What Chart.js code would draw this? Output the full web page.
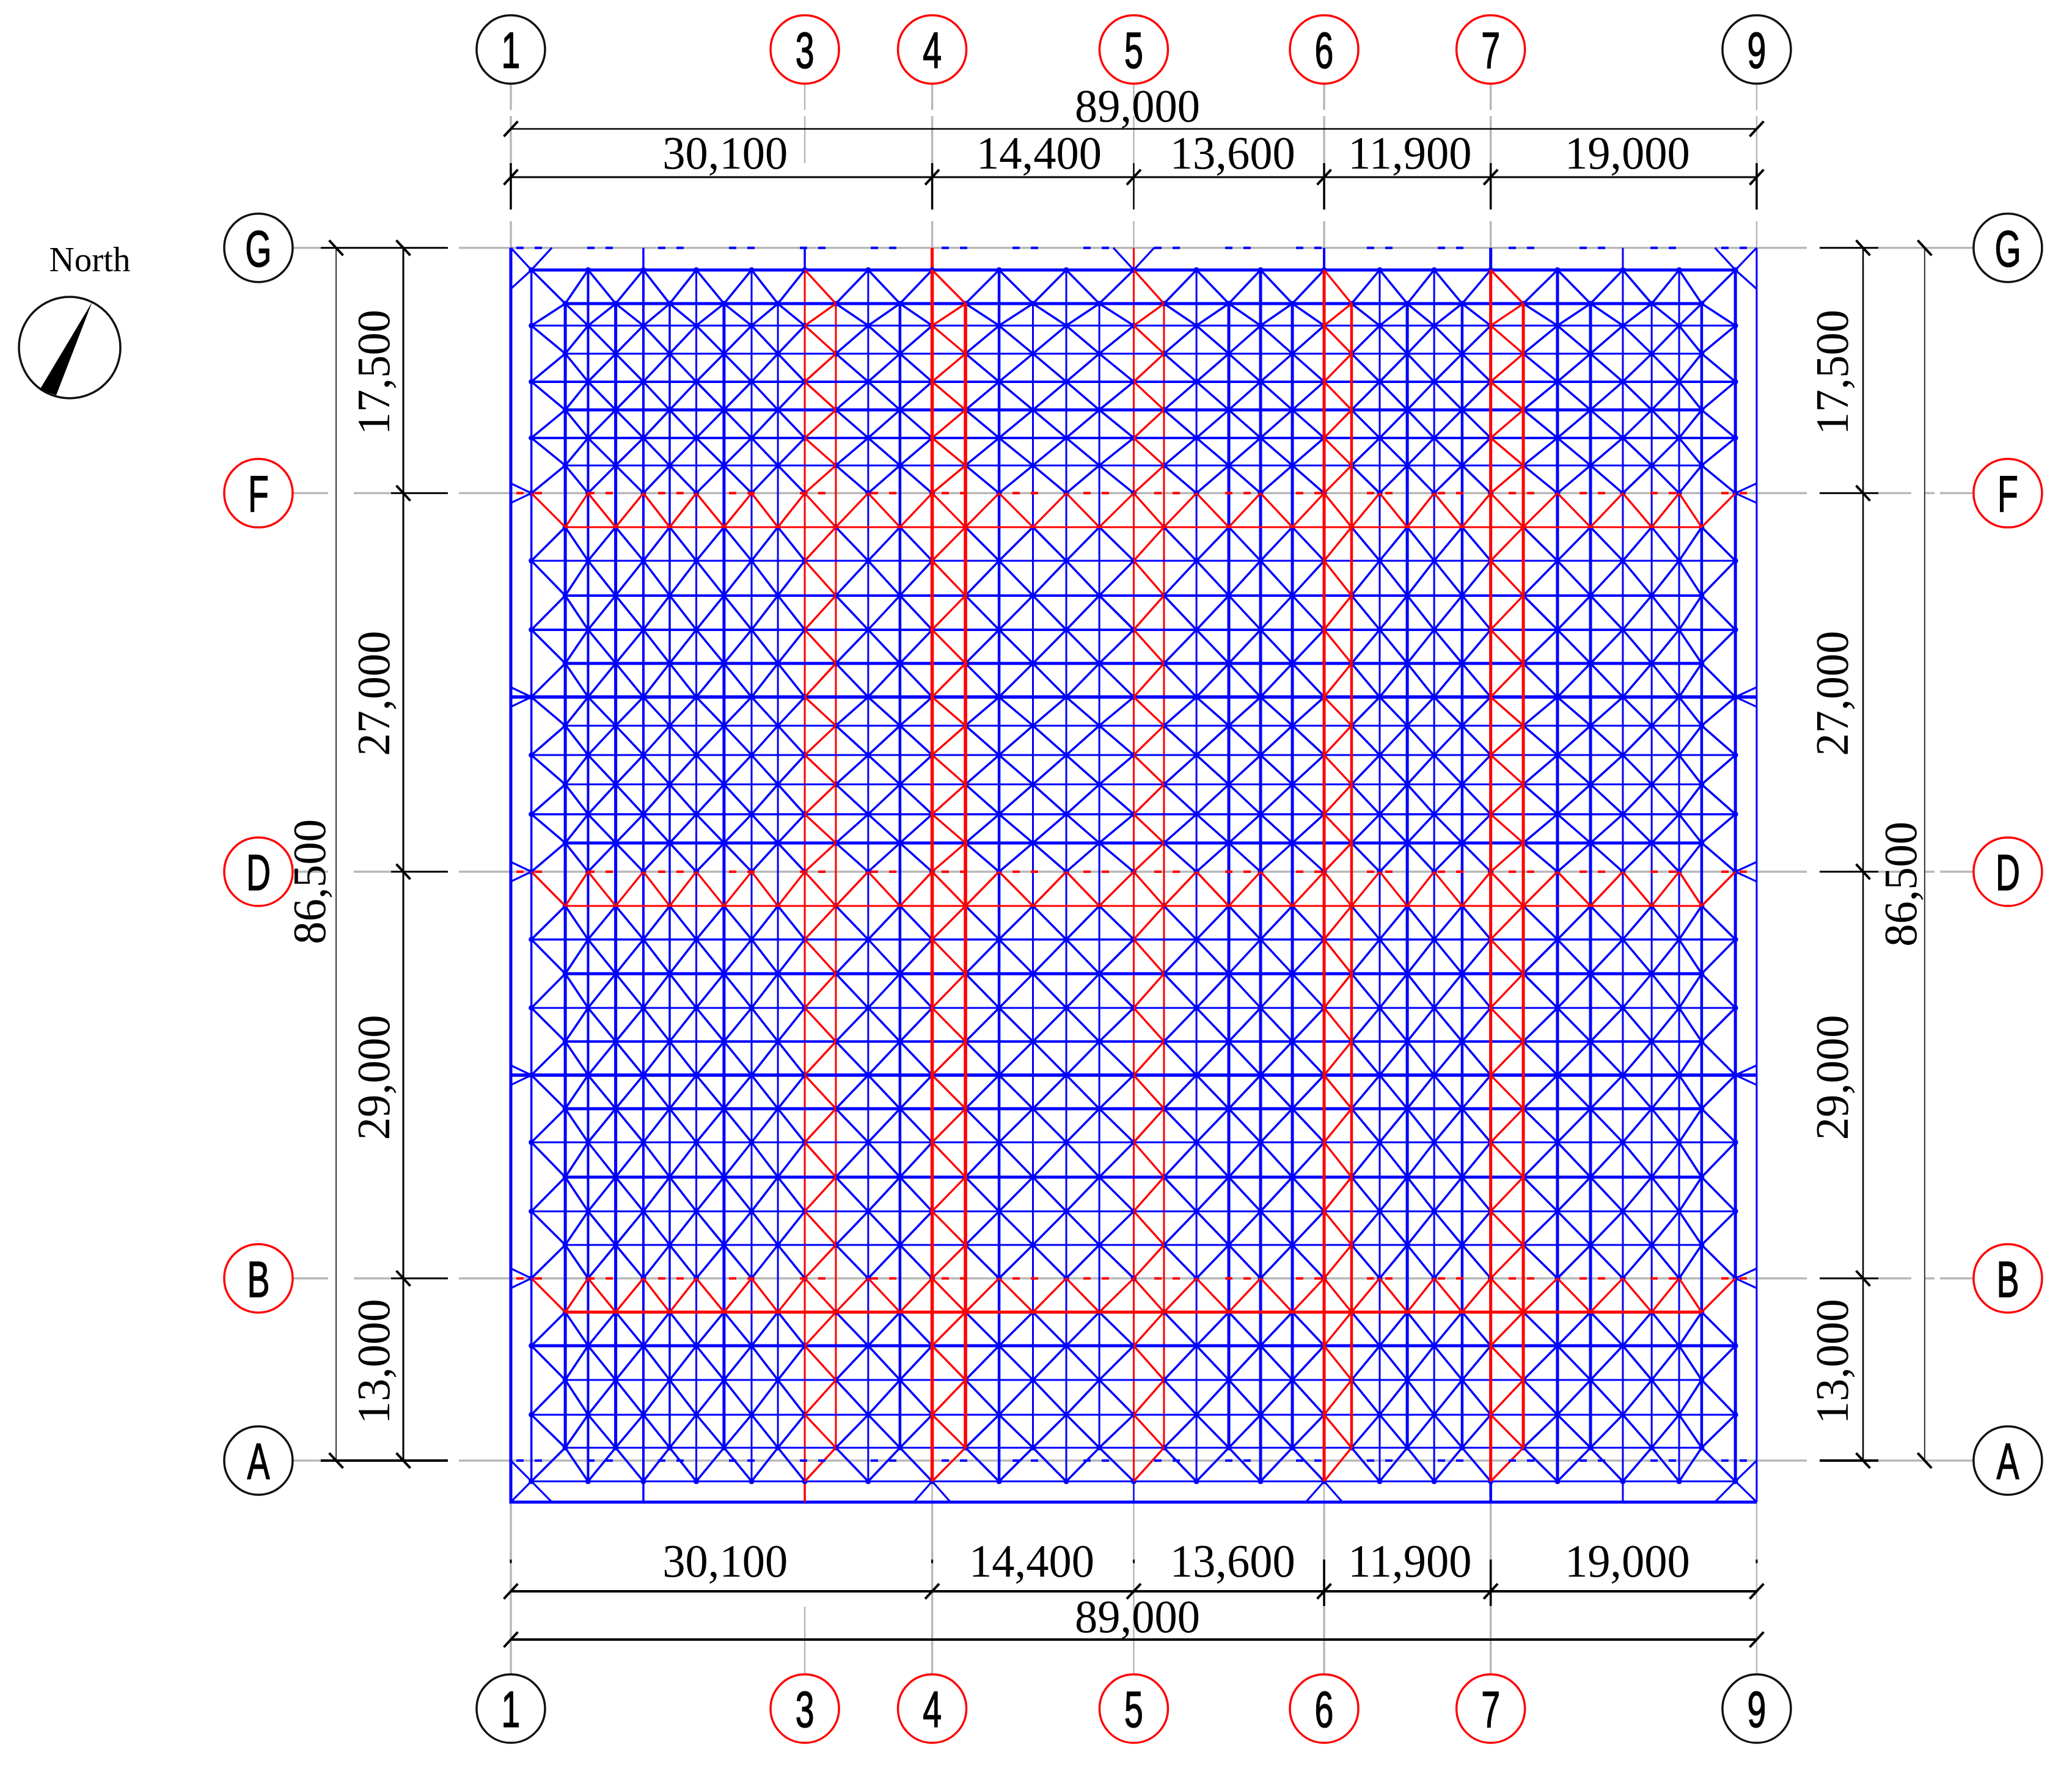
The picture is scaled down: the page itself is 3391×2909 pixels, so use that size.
<!DOCTYPE html>
<html><head><meta charset="utf-8">
<style>html,body{margin:0;padding:0;background:#fff}canvas{display:block}</style>
<script src="https://cdn.jsdelivr.net/npm/chart.js@4/dist/chart.umd.min.js"></script>
</head><body><canvas id="c" width="3391" height="2909"></canvas>
<script>
// ---- values, all in mm from axis 1 (x) and axis A (y) ----
const colX=[1470,3890,5520,7490,9470,11350,13250,15230,17200,19080,21000,23220,25530,27800,30100,32480,34880,37300,39680,42040,44500,46660,48980,51290,53560,55830,58100,60060,62070,64040,65960,67960,70000,72330,74770,77130,79440,81500,83460,85070,87480];
const rowY=[84920,82520,80950,78950,76950,74940,72940,70980,69000,66580,64180,61700,59260,56860,54460,52420,50320,48230,46100,44050,42000,39560,37170,34730,32290,29890,27490,25100,22700,20220,17780,15380,13000,10590,8190,5750,3270,920,-1480];
const colLabels=['1','3','4','5','6','7','9'];
const colAxes=[0,21000,30100,44500,58100,70000,89000];
const rowLabels=['G','F','D','B','A'];
const rowAxes=[86500,69000,42000,13000,0];
const spansX=[30100,14400,13600,11900,19000];
const spansY=[17500,27000,29000,13000];
const totalX=89000, totalY=86500, frameBottom=-2960;
const dimTopOuter=94980, dimTopInner=91540, dimBotInner=-9320, dimBotOuter=-12770;
const dimLeftInner=-7680, dimLeftOuter=-12480, dimRightInner=96600, dimRightOuter=101000;
const balloonTop=100650, balloonBottom=-17690, balloonLeft=-18030, balloonRight=106940;
const compass=[-31515,79384];
const needleX=[-29900,-33654,-32476], needleY=[82653,76378,75986];
const northLabel=[-30070,85480];

// ---- style tables (column / row index -> stroke width) ----
const colWidth=[3.5,5,4,5,4,3.5,3,5,3,3,3,3,3,4.5,5.5,5.5,4.5,3,3,3,3,3,3,5,5,5,5,4.5,3,5,3,4.5,5,5,5,5,3,3,3,4.5,5];
const rowWidth=[5,5,3,3,4,5,4,3,0,3,3,4,4,5,5.5,3,3,3,3.5,5,0,3,3.5,5,3,4,5.5,5,3,5,3,3,0,5,5,3,3,3,3];
const redColPairs=[10,14,20,26,32];
const redBandRows=[8,20,32];
const BLUE='#0000ff',RED='#ff0000',GREY='#b8b8b8',BLACK='#000000';
// text placement offsets (px) that follow the drawing's own lettering
const topTextShift=[6,10,6,4,6], botTextShift=[6,-2,6,4,6], sideTextShift=[3,18,4,-13];

const layers=[];
function line(segs,color,width,dash){
  const data=[];
  segs.forEach(s=>{s.forEach(p=>data.push({x:p[0],y:p[1]}));data.push({x:null,y:null});});
  layers.push({data,showLine:true,borderColor:color,borderWidth:width,borderDash:dash||[],pointRadius:0,fill:false,tension:0,spanGaps:false});
}
function dots(points,fillCol,strokeCol,radius,bw){
  layers.push({data:points.map(p=>({x:p[0],y:p[1]})),showLine:false,pointStyle:'circle',pointRadius:radius,pointBorderWidth:bw,pointBackgroundColor:fillCol,pointBorderColor:strokeCol});
}
const isRedCol=i=>redColPairs.includes(i)||redColPairs.includes(i-1);

// ---- grey centre lines and black extension lines ----
colAxes.forEach((x,k)=>{
  const thin=(k===1||k===3||k===6)?2.5:3.5;
  if(k===1){
    line([[[x,98207],[x,96333]],[[x,95897],[x,92542]],[[x,-10413],[x,-15293]]],GREY,thin);
    return;
  }
  line([[[x,98207],[x,96333]],[[x,95897],[x,92542]],[[x,88403],[x,86500]],[[x,frameBottom],[x,-15293]]],GREY,thin);
  line([[[x,92542],[x,89230]]],BLACK,(k===3)?2.5:3.5);
  if(k===4||k===5) line([[[x,-7058],[x,-10370]]],BLACK,3.5);
  else line([[[x,-7058],[x,-7320]]],BLACK,3);
});
rowAxes.forEach((y,k)=>{
  line([[[0,y],[totalX,y]]],GREY,3.5);
  if(k===0||k===4){
    line([[[-15627,y],[-13575,y]],[[-3710,y],[0,y]],[[totalX,y],[92582,y]],[[97689,y],[104542,y]]],GREY,3.5);
    line([[[-13575,y],[-4496,y]],[[93498,y],[97689,y]]],BLACK,k===4?4:3);
  }else{
    line([[[-15627,y],[-13051,y]],[[-11218,y],[-8555,y]],[[-3710,y],[0,y]],[[totalX,y],[92582,y]],[[97689,y],[100047,y]],[[100962,y],[101704,y]],[[102097,y],[104542,y]]],GREY,3.5);
    line([[[-8555,y],[-4496,y]],[[93498,y],[97689,y]]],BLACK,3);
  }
});
[colX[14],colX[26]].forEach(x=>line([[[x,rowY[38]],[x,frameBottom]]],GREY,2.5));

// ---- dimension lines, ticks ----
line([[[0,dimTopOuter],[totalX,dimTopOuter]]],BLACK,2.5);
line([[[0,dimTopInner],[totalX,dimTopInner]]],BLACK,3);
line([[[0,dimBotInner],[totalX,dimBotInner]]],BLACK,4);
line([[[0,dimBotOuter],[totalX,dimBotOuter]]],BLACK,4);
line([[[dimLeftInner,totalY],[dimLeftInner,0]]],BLACK,3);
line([[[dimLeftOuter,totalY],[dimLeftOuter,0]]],'#333333',2);
line([[[dimRightInner,totalY],[dimRightInner,0]]],BLACK,2.5);
line([[[dimRightOuter,totalY],[dimRightOuter,0]]],'#333333',2);
const tickA=500,tickB=540;
function xTicks(y,xs){return xs.map(x=>[[x-tickA,y-tickB],[x+tickA,y+tickB]]);}
function yTicks(x,ys){return ys.map(y=>[[x-tickA,y+tickB],[x+tickA,y-tickB]]);}
const xStops=[0];spansX.forEach(s=>xStops.push(xStops[xStops.length-1]+s));
const yStops=[totalY];spansY.forEach(s=>yStops.push(yStops[yStops.length-1]-s));
line(xTicks(dimTopOuter,[0,totalX]).concat(xTicks(dimTopInner,xStops),xTicks(dimBotInner,xStops),xTicks(dimBotOuter,[0,totalX])),BLACK,4);
line(yTicks(dimLeftInner,yStops).concat(yTicks(dimRightInner,yStops),yTicks(dimLeftOuter,[totalY,0]),yTicks(dimRightOuter,[totalY,0])),BLACK,4);

// ---- outer frame + stubs ----
line([[[0,totalY],[0,frameBottom],[totalX,frameBottom]]],BLUE,5);
line([[[totalX,totalY],[totalX,frameBottom]]],BLUE,3);
function stub(i,y0,y1,c,w){line([[[colX[i],y0],[colX[i],y1]]],c,w);}
stub(4,totalY,rowY[0],BLUE,3.5);stub(10,totalY,rowY[0],BLUE,3.5);stub(14,totalY,rowY[0],RED,5);
stub(20,totalY,rowY[0],RED,3);stub(26,totalY,rowY[0],BLUE,4);stub(32,totalY,rowY[0],BLUE,5);stub(36,totalY,rowY[0],BLUE,3);
stub(4,rowY[38],frameBottom,BLUE,3.5);stub(10,rowY[38],frameBottom,RED,3.5);stub(20,rowY[38],frameBottom,BLUE,2.5);
stub(32,rowY[38],frameBottom,BLUE,4.5);stub(36,rowY[38],frameBottom,BLUE,3);

// thin red columns lie under the blue chords
const thinRed=[10,11,20,21];
thinRed.forEach(i=>line([[[colX[i],i%2?rowY[1]:rowY[0]],[colX[i],i%2?rowY[37]:rowY[38]]]],RED,colWidth[i]));
// blue columns
colX.forEach((x,i)=>{ if(!isRedCol(i)) line([[[x,i%2?rowY[1]:rowY[0]],[x,i%2?rowY[37]:rowY[38]]]],BLUE,colWidth[i]); });
// blue rows
rowY.forEach((y,j)=>{
  if(rowWidth[j]===0||redBandRows.includes(j-1)) return;
  const wide=(j===14||j===26);
  const x0=wide?0:(j%2?colX[1]:colX[0]), x1=wide?totalX:(j%2?colX[39]:colX[40]);
  line([[[x0,y],[x1,y]]],BLUE,rowWidth[j]);
});
// diagonals
const blueDiag=[],redDiag=[],nodes=[];
for(let i=0;i<colX.length;i++)for(let j=0;j<rowY.length;j++){
  if((i+j)%2) continue;
  nodes.push([colX[i],rowY[j]]);
  if(i+1>=colX.length) continue;
  [j-1,j+1].forEach(k=>{
    if(k<0||k>=rowY.length) return;
    const e=i%2===0?i:i+1, o=i%2===0?i+1:i, er=j%2===0?j:k;
    const seg=[[colX[i],rowY[j]],[colX[i+1],rowY[k]]];
    const inPair=redColPairs.includes(e)&&o===e+1;
    const inBand=redBandRows.includes(er)&&(j%2===0?k:j)===er+1;
    (inPair||inBand?redDiag:blueDiag).push(seg);
  });
}
line(blueDiag,BLUE,3.6);
// edge fans and corner crosses
const fan=700,reach=1460,bay=1310;
const edgeRows=[8,14,20,26,32];
const fans=[];
edgeRows.forEach(j=>{
  fans.push([[0,rowY[j]+fan],[colX[0],rowY[j]]],[[0,rowY[j]-fan],[colX[0],rowY[j]]]);
  fans.push([[totalX,rowY[j]+fan],[colX[40],rowY[j]]],[[totalX,rowY[j]-fan],[colX[40],rowY[j]]]);
});
[[0,colX[0],1],[totalX,colX[40],-1]].forEach(([ex,cx,s])=>{
  fans.push([[ex,totalY],[cx,rowY[0]]],[[cx+s*reach,totalY],[cx,rowY[0]]],[[ex,rowY[0]-1350],[cx,rowY[0]]]);
  fans.push([[ex,frameBottom],[cx,rowY[38]]],[[cx+s*reach,frameBottom],[cx,rowY[38]]],[[ex,0],[cx,rowY[38]]]);
});
fans.push([[colX[20]-reach,totalY],[colX[20],rowY[0]]],[[colX[20]+reach,totalY],[colX[20],rowY[0]]]);
[14,26].forEach(i=>fans.push([[colX[i]-bay,frameBottom],[colX[i],rowY[38]]],[[colX[i]+bay,frameBottom],[colX[i],rowY[38]]]));
line(fans,BLUE,3.2);
dots(nodes,BLUE,BLUE,4.5,0);
// red chords
[14,15,26,27,32,33].forEach(i=>line([[[colX[i],i%2?rowY[1]:rowY[0]],[colX[i],i%2?rowY[37]:rowY[38]]]],RED,colWidth[i]));
line(redDiag,RED,3.4);
line([[[colX[1],rowY[9]],[colX[39],rowY[9]]]],RED,3);
line([[[colX[1],rowY[21]],[colX[39],rowY[21]]]],RED,3);
line([[[colX[1],rowY[33]],[colX[39],rowY[33]]]],RED,5);
// dashed chords on axis lines
const dashX0=393, dashPattern=[12,18,12,74];
rowAxes.forEach((y,k)=>line([[[dashX0,y],[totalX,y]]],(k===0||k===4)?BLUE:RED,4,dashPattern));

// ---- balloons and compass ----
const redCols=[1,2,3,4,5];
const redRows=[1,2,3];
colAxes.forEach((x,k)=>{
  const c=redCols.includes(k)?RED:'#111111';
  dots([[x,balloonTop],[x,balloonBottom]],'#ffffff',c,56,3.5);
});
rowAxes.forEach((y,k)=>{
  const c=redRows.includes(k)?RED:'#111111';
  dots([[balloonLeft,y],[balloonRight,y]],'#ffffff',c,56,3.5);
});
dots([compass],'#ffffff','#111111',83,3.5);
layers.reverse(); // first dataset is painted last by Chart.js

const drawing={
  id:'drawing',
  afterDatasetsDraw(ch){
    const X=ch.scales.x,Y=ch.scales.y,ctx=ch.ctx;
    const px=v=>X.getPixelForValue(v),py=v=>Y.getPixelForValue(v);
    ctx.save();
    ctx.beginPath();
    needleX.forEach((v,i)=>{i?ctx.lineTo(px(v),py(needleY[i])):ctx.moveTo(px(v),py(needleY[i]));});
    ctx.closePath();ctx.fillStyle='#000';ctx.fill();
    const serif='"Liberation Serif","Times New Roman",serif';
    const dimFont='76px '+serif;
    function dimText(t,x,y,rot){
      ctx.save();ctx.translate(x,y);if(rot)ctx.rotate(-Math.PI/2);
      ctx.scale(0.98,1);ctx.font=dimFont;ctx.fillStyle='#000';ctx.textAlign='center';ctx.textBaseline='alphabetic';
      ctx.fillText(t,0,0);ctx.restore();
    }
    const fmt=v=>v.toLocaleString('en-US');
    ctx.font='57px '+serif;ctx.fillStyle='#000';ctx.textAlign='center';ctx.textBaseline='middle';
    ctx.fillText('North',px(northLabel[0]),py(northLabel[1]));
    // horizontal dimensions
    spansX.forEach((s,i)=>{
      const mid=(xStops[i]+xStops[i+1])/2;
      dimText(fmt(s),px(mid)+topTextShift[i],py(dimTopInner)-14,false);
      dimText(fmt(s),px(mid)+botTextShift[i],py(dimBotInner)-24,false);
    });
    dimText(fmt(totalX),px(totalX/2)+6,py(dimTopOuter)-12,false);
    dimText(fmt(totalX),px(totalX/2)+6,py(dimBotOuter)-12,false);
    // vertical dimensions
    spansY.forEach((s,i)=>{
      const mid=(yStops[i]+yStops[i+1])/2;
      dimText(fmt(s),px(dimLeftInner)-23,py(mid)+sideTextShift[i],true);
      dimText(fmt(s),px(dimRightInner)-25,py(mid)+sideTextShift[i],true);
    });
    dimText(fmt(totalY),px(dimLeftOuter)-18,py(totalY/2)+45,true);
    dimText(fmt(totalY),px(dimRightOuter)-14,py(totalY/2)+49,true);
    // balloon labels
    function tag(t,x,y){
      ctx.save();ctx.translate(x,y);ctx.scale(0.66,1);
      ctx.font='84px "Liberation Sans Narrow","Liberation Sans",sans-serif';ctx.fillStyle='#000';ctx.strokeStyle='#000';ctx.lineWidth=1.5;ctx.textAlign='center';ctx.textBaseline='alphabetic';
      ctx.fillText(t,0,30);ctx.strokeText(t,0,30);ctx.restore();
    }
    colLabels.forEach((t,k)=>{tag(t,px(colAxes[k]),py(balloonTop));tag(t,px(colAxes[k]),py(balloonBottom));});
    rowLabels.forEach((t,k)=>{tag(t,px(balloonLeft),py(rowAxes[k]));tag(t,px(balloonRight),py(rowAxes[k]));});
    ctx.restore();
  }
};

new Chart(document.getElementById('c'),{
  type:'scatter',
  data:{datasets:layers},
  plugins:[drawing],
  options:{
    responsive:false,animation:false,devicePixelRatio:1,
    layout:{padding:0,autoPadding:false},
    elements:{line:{borderCapStyle:'butt',borderJoinStyle:'miter'}},
    plugins:{legend:{display:false},tooltip:{enabled:false},title:{display:false}},
    events:[],
    scales:{
      x:{type:'linear',display:false,min:-36491,max:111526},
      y:{type:'linear',display:false,min:-22569,max:104176}
    }
  }
});
</script></body></html>
